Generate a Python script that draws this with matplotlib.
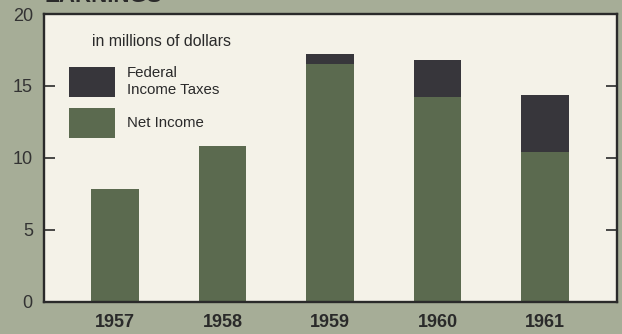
import matplotlib
matplotlib.use("Agg")
import matplotlib.pyplot as plt
import numpy as np

years = ["1957", "1958", "1959", "1960", "1961"]
net_income = [7.8, 10.8, 16.55, 14.2, 10.4]
income_taxes = [0.0, 0.0, 0.7, 2.6, 3.95]

outer_bg = "#a6ad97"
plot_bg = "#f4f2e8"
green = "#5b6a4f"
dark = "#37363b"
ink = "#2a2a2a"

plt.rcParams["font.family"] = ["Liberation Sans", "DejaVu Sans"]

fig = plt.figure(figsize=(6.22, 3.34), dpi=100, facecolor=outer_bg)
ax = fig.add_axes([0.0707, 0.0973, 0.9205, 0.8607])
ax.set_facecolor(plot_bg)

x = np.arange(len(years))
b_net = ax.bar(x, net_income, width=0.44, color=green, label="Net Income", zorder=2)
b_tax = ax.bar(x, income_taxes, width=0.44, bottom=net_income, color=dark,
               label="Federal\nIncome Taxes", zorder=2)

ax.set_xlim(-0.661, 4.665)
ax.set_ylim(0, 20)
ax.set_yticks([0, 5, 10, 15, 20])
ax.set_xticks(x)
ax.set_xticklabels(years, fontweight="bold", fontsize=13, color=ink)

for s in ax.spines.values():
    s.set_linewidth(1.7)
    s.set_color(ink)

# ticks point into the plot on both sides
ax.tick_params(axis="y", which="both", direction="in", length=8, width=1.2,
               color=ink, labelsize=13, labelcolor="#333333", pad=8, right=True)
ax.tick_params(axis="x", length=0, pad=9)
ticks = ax.yaxis.get_major_ticks()
for t in (ticks[0], ticks[-1]):
    t.tick1line.set_visible(False)
    t.tick2line.set_visible(False)

ax.text(0.084, 0.905, "in millions of dollars", transform=ax.transAxes,
        fontsize=11.4, color=ink, va="center")
leg = ax.legend(handles=[b_tax, b_net], loc="upper left",
                bbox_to_anchor=(0.03, 0.847), frameon=False,
                handlelength=3.07, handleheight=2.7, labelspacing=0.7,
                handletextpad=0.8, borderpad=0, prop={"size": 10.8})
for t in leg.get_texts():
    t.set_color(ink)
    t.set_linespacing(1.3)

# title sits mostly above the crop, as in the reference
fig.text(0.072, 1 - 2 / 334, "EARNINGS", fontsize=16, fontweight="bold",
         color=ink, va="baseline")

fig.savefig("out.png", dpi=100, facecolor=outer_bg)
